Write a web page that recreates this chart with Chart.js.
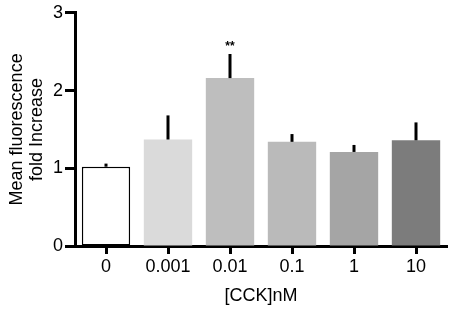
<!DOCTYPE html>
<html>
<head>
<meta charset="utf-8">
<script src="https://cdn.jsdelivr.net/npm/chart.js@4.4.1/dist/chart.umd.min.js"></script>
<style>
  html, body { margin: 0; padding: 0; background: #fff; }
</style>
</head>
<body>
<canvas id="chart" width="454" height="312"></canvas>
<script>
// CCK dose (nM) vs mean fluorescence fold increase
const doses = ['0', '0.001', '0.01', '0.1', '1', '10'];
const foldIncrease = [1.02, 1.37, 2.16, 1.34, 1.21, 1.36];
const errUp = [0.04, 0.31, 0.31, 0.10, 0.09, 0.23];
const marks = ['', '', '**', '', '', ''];
const barColors = ['#ffffff', '#dadada', '#bebebe', '#bababa', '#a5a5a5', '#7c7c7c'];
const yTicks = [0, 1, 2, 3];

const FONT = 'Liberation Sans, Arial, sans-serif';

// upward-only error bars + significance stars
const errorBars = {
  id: 'errorBars',
  afterDatasetsDraw(chart) {
    const ctx = chart.ctx;
    const y = chart.scales.y;
    const meta = chart.getDatasetMeta(0);
    ctx.save();
    meta.data.forEach((bar, i) => {
      const top = y.getPixelForValue(foldIncrease[i] + errUp[i]);
      ctx.strokeStyle = '#000';
      ctx.lineWidth = 3;
      ctx.beginPath();
      ctx.moveTo(bar.x, bar.y);
      ctx.lineTo(bar.x, top);
      ctx.stroke();
      if (marks[i]) {
        ctx.fillStyle = '#000';
        ctx.font = 'bold 12px ' + FONT;
        ctx.textAlign = 'center';
        ctx.textBaseline = 'bottom';
        ctx.fillText(marks[i], bar.x, top - 1);
      }
    });
    ctx.restore();
  }
};

new Chart(document.getElementById('chart'), {
  type: 'bar',
  data: {
    labels: doses,
    datasets: [{
      data: foldIncrease,
      backgroundColor: barColors,
      borderColor: '#000',
      borderWidth: [1.5, 0, 0, 0, 0, 0],
      borderSkipped: false,
      barPercentage: 0.78,
      categoryPercentage: 1
    }]
  },
  options: {
    responsive: false,
    animation: false,
    layout: { padding: { top: 0, right: 7, left: 0, bottom: 0 } },
    plugins: { legend: { display: false }, tooltip: { enabled: false } },
    scales: {
      x: {
        offset: true,
        afterFit: s => { s.height = 66; },
        grid: { display: true, drawOnChartArea: false, drawTicks: true, tickLength: 8, tickWidth: 3, tickColor: '#000', offset: false },
        border: { display: true, color: '#000', width: 3 },
        ticks: { color: '#000', padding: 2, font: { family: FONT, size: 18 } },
        title: { display: true, text: '[CCK]nM', color: '#000', padding: { top: 4, bottom: 5 }, font: { family: FONT, size: 18 } }
      },
      y: {
        min: 0,
        max: 3,
        afterFit: s => { s.width = 75; },
        afterBuildTicks: s => { s.ticks = yTicks.map(v => ({ value: v })); },
        grid: { display: true, drawOnChartArea: false, drawTicks: true, tickLength: 10, tickWidth: 3, tickColor: '#000' },
        border: { display: true, color: '#000', width: 3 },
        ticks: { color: '#000', padding: 2, font: { family: FONT, size: 18 } },
        title: { display: true, text: ['Mean fluorescence', 'fold Increase'], color: '#000', padding: { top: 7, bottom: 2 }, font: { family: FONT, size: 18, lineHeight: 1.1 } }
      }
    }
  },
  plugins: [errorBars]
});
</script>
</body>
</html>
